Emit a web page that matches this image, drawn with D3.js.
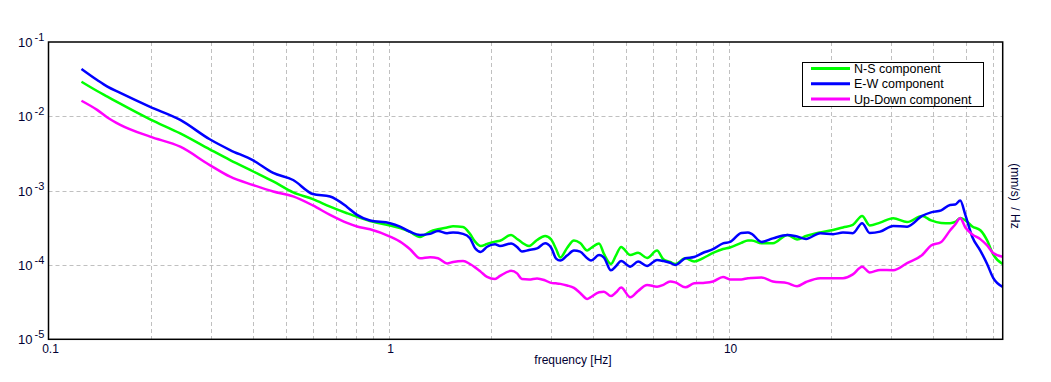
<!DOCTYPE html>
<html>
<head>
<meta charset="utf-8">
<script src="https://cdn.jsdelivr.net/npm/d3@7"></script>
<style>
  body { margin: 0; background: #fff; }
  text { font-family: "Liberation Sans", Arial, sans-serif; }
</style>
</head>
<body>
<div id="chart"></div>
<script>
// frequencies [Hz] shared by the three spectra
var freq = [0.125, 0.139, 0.149, 0.162, 0.199, 0.244, 0.298, 0.342, 0.400, 0.458,
  0.524, 0.599, 0.673, 0.755, 0.808, 0.882, 1.01, 1.081, 1.157, 1.238,
  1.325, 1.398, 1.486, 1.548, 1.656, 1.736, 1.797, 1.868, 1.949, 2.057,
  2.127, 2.293, 2.388, 2.467, 2.59, 2.734, 2.887, 3.006, 3.11, 3.20,
  3.35, 3.51, 3.66, 3.84, 3.94, 4.16, 4.30, 4.51, 4.67, 4.83,
  5.14, 5.42, 5.76, 6.16, 6.43, 6.73, 6.97, 7.46, 7.92, 8.42,
  9.0, 9.63, 10.1, 10.9, 11.4, 11.7, 12.5, 13.5, 14.9, 15.9,
  16.9, 18.6, 20.3, 21.7, 23.2, 24.7, 26.0, 27.9, 30.5, 33.5,
  37.1, 39.4, 42.2, 44.8, 46.4, 48.0, 49.7, 52.1, 55.1, 57.6,
  60.0, 64.0];

var nsValues = [2.92e-2, 2.19e-2, 1.84e-2, 1.49e-2, 9.1e-3, 5.9e-3, 3.60e-3, 2.58e-3, 1.81e-3, 1.33e-3,
  9.48e-4, 7.68e-4, 6.10e-4, 4.96e-4, 4.43e-4, 3.91e-4, 3.40e-4, 3.15e-4, 2.78e-4, 2.38e-4,
  2.81e-4, 3.02e-4, 3.20e-4, 3.32e-4, 3.25e-4, 2.62e-4, 2.06e-4, 1.80e-4, 1.92e-4, 2.06e-4,
  2.12e-4, 2.54e-4, 2.24e-4, 2.01e-4, 1.80e-4, 2.17e-4, 2.45e-4, 2.21e-4, 1.64e-4, 1.26e-4,
  1.69e-4, 2.14e-4, 1.98e-4, 1.57e-4, 1.69e-4, 1.95e-4, 1.41e-4, 1.03e-4, 1.36e-4, 1.75e-4,
  1.36e-4, 1.46e-4, 1.24e-4, 1.56e-4, 1.19e-4, 1.10e-4, 1.03e-4, 1.23e-4, 1.11e-4, 1.24e-4,
  1.45e-4, 1.64e-4, 1.72e-4, 1.98e-4, 2.14e-4, 2.14e-4, 1.96e-4, 1.96e-4, 2.54e-4, 2.21e-4,
  2.45e-4, 2.74e-4, 2.96e-4, 3.20e-4, 3.46e-4, 4.57e-4, 3.40e-4, 3.71e-4, 4.26e-4, 3.79e-4,
  4.57e-4, 3.98e-4, 3.68e-4, 3.65e-4, 3.79e-4, 4.30e-4, 3.98e-4, 3.30e-4, 2.91e-4, 2.14e-4,
  1.39e-4, 1.03e-4];

var ewValues = [4.34e-2, 3.08e-2, 2.51e-2, 2.08e-2, 1.34e-2, 8.95e-3, 4.91e-3, 3.52e-3, 2.55e-3, 1.73e-3,
  1.39e-3, 9.0e-4, 8.33e-4, 6.04e-4, 4.72e-4, 3.96e-4, 3.65e-4, 3.28e-4, 2.80e-4, 2.54e-4,
  2.62e-4, 2.87e-4, 2.68e-4, 2.73e-4, 2.62e-4, 2.29e-4, 1.68e-4, 1.50e-4, 1.76e-4, 1.90e-4,
  1.80e-4, 1.95e-4, 1.75e-4, 1.52e-4, 1.59e-4, 1.67e-4, 1.96e-4, 1.72e-4, 1.22e-4, 1.15e-4,
  1.34e-4, 1.56e-4, 1.51e-4, 1.23e-4, 1.15e-4, 1.36e-4, 1.26e-4, 8.46e-5, 9.7e-5, 1.13e-4,
  9.5e-5, 1.11e-4, 9.7e-5, 1.17e-4, 1.13e-4, 1.07e-4, 1.0e-4, 1.23e-4, 1.28e-4, 1.46e-4,
  1.63e-4, 1.95e-4, 2.04e-4, 2.70e-4, 2.74e-4, 2.62e-4, 2.04e-4, 2.28e-4, 2.54e-4, 2.41e-4,
  2.24e-4, 2.68e-4, 2.60e-4, 2.73e-4, 2.68e-4, 3.65e-4, 2.70e-4, 2.81e-4, 3.35e-4, 3.28e-4,
  4.57e-4, 5.10e-4, 5.42e-4, 6.43e-4, 6.5e-4, 7.36e-4, 4.72e-4, 2.38e-4, 1.54e-4, 1.03e-4,
  6.7e-5, 5.07e-5];

var udValues = [1.62e-2, 1.22e-2, 9.65e-3, 7.75e-3, 5.32e-3, 3.90e-3, 2.21e-3, 1.54e-3, 1.19e-3, 9.75e-4,
  8.38e-4, 6.33e-4, 4.72e-4, 3.68e-4, 3.30e-4, 3.02e-4, 2.41e-4, 2.06e-4, 1.63e-4, 1.23e-4,
  1.27e-4, 1.23e-4, 1.05e-4, 1.10e-4, 1.13e-4, 1.03e-4, 9.28e-5, 8.08e-5, 6.9e-5, 6.47e-5,
  7.12e-5, 8.33e-5, 7.7e-5, 6.47e-5, 6.39e-5, 6.6e-5, 6.2e-5, 5.74e-5, 5.66e-5, 5.57e-5,
  5.3e-5, 4.91e-5, 4.2e-5, 3.49e-5, 3.71e-5, 4.3e-5, 4.37e-5, 3.82e-5, 4.3e-5, 4.98e-5,
  3.68e-5, 4.47e-5, 5.39e-5, 5.1e-5, 5.39e-5, 6.0e-5, 5.83e-5, 5.0e-5, 5.66e-5, 5.74e-5,
  6.0e-5, 6.9e-5, 6.39e-5, 6.39e-5, 6.64e-5, 6.7e-5, 6.77e-5, 6.0e-5, 5.7e-5, 5.18e-5,
  5.9e-5, 6.64e-5, 6.64e-5, 6.64e-5, 7.46e-5, 9.5e-5, 7.93e-5, 8.58e-5, 8.5e-5, 1.06e-4,
  1.36e-4, 1.83e-4, 2.04e-4, 2.91e-4, 3.51e-4, 4.26e-4, 3.20e-4, 2.58e-4, 2.21e-4, 1.83e-4,
  1.45e-4, 1.29e-4];

var seriesNames = ["N-S component", "E-W component", "Up-Down component"];
var seriesColors = ["#00ff00", "#0000ff", "#ff00ff"];
var xTickValues = [0.1, 1, 10];
var xTickLabels = ["0.1", "1", "10"];
var yTickExps = [-1, -2, -3, -4, -5];

var W = 1051, H = 382;
var plotL = 48.5, plotR = 1002.7, plotT = 42, plotB = 339.3;

var svg = d3.select("#chart")
  .append("svg")
    .attr("width", W)
    .attr("height", H);

var x = d3.scaleLog().domain([0.1, 64]).range([plotL, plotR]);
var y = d3.scaleLog().domain([1e-5, 1e-1]).range([plotB, plotT]);

// grid
svg.append("g")
  .selectAll("line")
  .data(x.ticks().filter(function(d) { return d > 0.1; }))
  .enter()
  .append("line")
    .attr("x1", function(d) { return Math.round(x(d)) + 0.5; })
    .attr("x2", function(d) { return Math.round(x(d)) + 0.5; })
    .attr("y1", plotT)
    .attr("y2", plotB)
    .attr("stroke", "#c0c0c0")
    .attr("stroke-dasharray", "4,3");

svg.append("g")
  .selectAll("line")
  .data(yTickExps.slice(1, 4))
  .enter()
  .append("line")
    .attr("x1", plotL)
    .attr("x2", plotR)
    .attr("y1", function(d) { return Math.round(y(Math.pow(10, d))) + 0.5; })
    .attr("y2", function(d) { return Math.round(y(Math.pow(10, d))) + 0.5; })
    .attr("stroke", "#c0c0c0")
    .attr("stroke-dasharray", "4,3");

// curves
var line = d3.line()
  .curve(d3.curveMonotoneX)
  .x(function(d) { return x(d[0]); })
  .y(function(d) { return y(d[1]); });

var allValues = [nsValues, ewValues, udValues];
allValues.forEach(function(vals, i) {
  svg.append("path")
    .datum(freq.map(function(f, j) { return [f, vals[j]]; }))
    .attr("d", line)
    .attr("fill", "none")
    .attr("stroke", seriesColors[i])
    .attr("stroke-width", 2.5)
    .attr("stroke-linejoin", "round");
});

// frame
svg.append("rect")
  .attr("x", plotL)
  .attr("y", plotT)
  .attr("width", plotR - plotL)
  .attr("height", plotB - plotT)
  .attr("fill", "none")
  .attr("stroke", "#000")
  .attr("stroke-width", 1.5);

// y tick labels
var yl = svg.append("g").attr("fill", "#000033");
yTickExps.forEach(function(e) {
  var t = yl.append("text")
    .attr("x", 18)
    .attr("y", y(Math.pow(10, e)) + 5)
    .attr("font-size", "13px")
    .text("10");
  t.append("tspan")
    .attr("dx", 2)
    .attr("dy", -6)
    .attr("font-size", "11px")
    .text(e);
});

// x tick labels
svg.append("g")
  .selectAll("text")
  .data(xTickValues)
  .enter()
  .append("text")
    .attr("x", function(d) { return x(d) + 2; })
    .attr("y", 353)
    .attr("text-anchor", "middle")
    .attr("font-size", "12px")
    .attr("fill", "#000033")
    .text(function(d, i) { return xTickLabels[i]; });

svg.append("text")
  .attr("x", 573)
  .attr("y", 364)
  .attr("text-anchor", "middle")
  .attr("font-size", "12px")
  .attr("fill", "#000033")
  .text("frequency [Hz]");

svg.append("text")
  .attr("transform", "translate(1011,196) rotate(90)")
  .attr("text-anchor", "middle")
  .attr("font-size", "12px")
  .attr("fill", "#000033")
  .attr("xml:space", "preserve")
  .text("(mm/s)  / Hz");

// legend
var lg = svg.append("g");
lg.append("rect")
  .attr("x", 802.5)
  .attr("y", 62.5)
  .attr("width", 181)
  .attr("height", 44)
  .attr("fill", "#fff")
  .attr("stroke", "#000");

seriesNames.forEach(function(name, i) {
  var ly = 68.5 + i * 15.3;
  lg.append("line")
    .attr("x1", 811)
    .attr("x2", 850)
    .attr("y1", ly)
    .attr("y2", ly)
    .attr("stroke", seriesColors[i])
    .attr("stroke-width", 3);
  lg.append("text")
    .attr("x", 854)
    .attr("y", ly + 4.5)
    .attr("font-size", "12.5px")
    .attr("fill", "#000")
    .text(name);
});
</script>
</body>
</html>
